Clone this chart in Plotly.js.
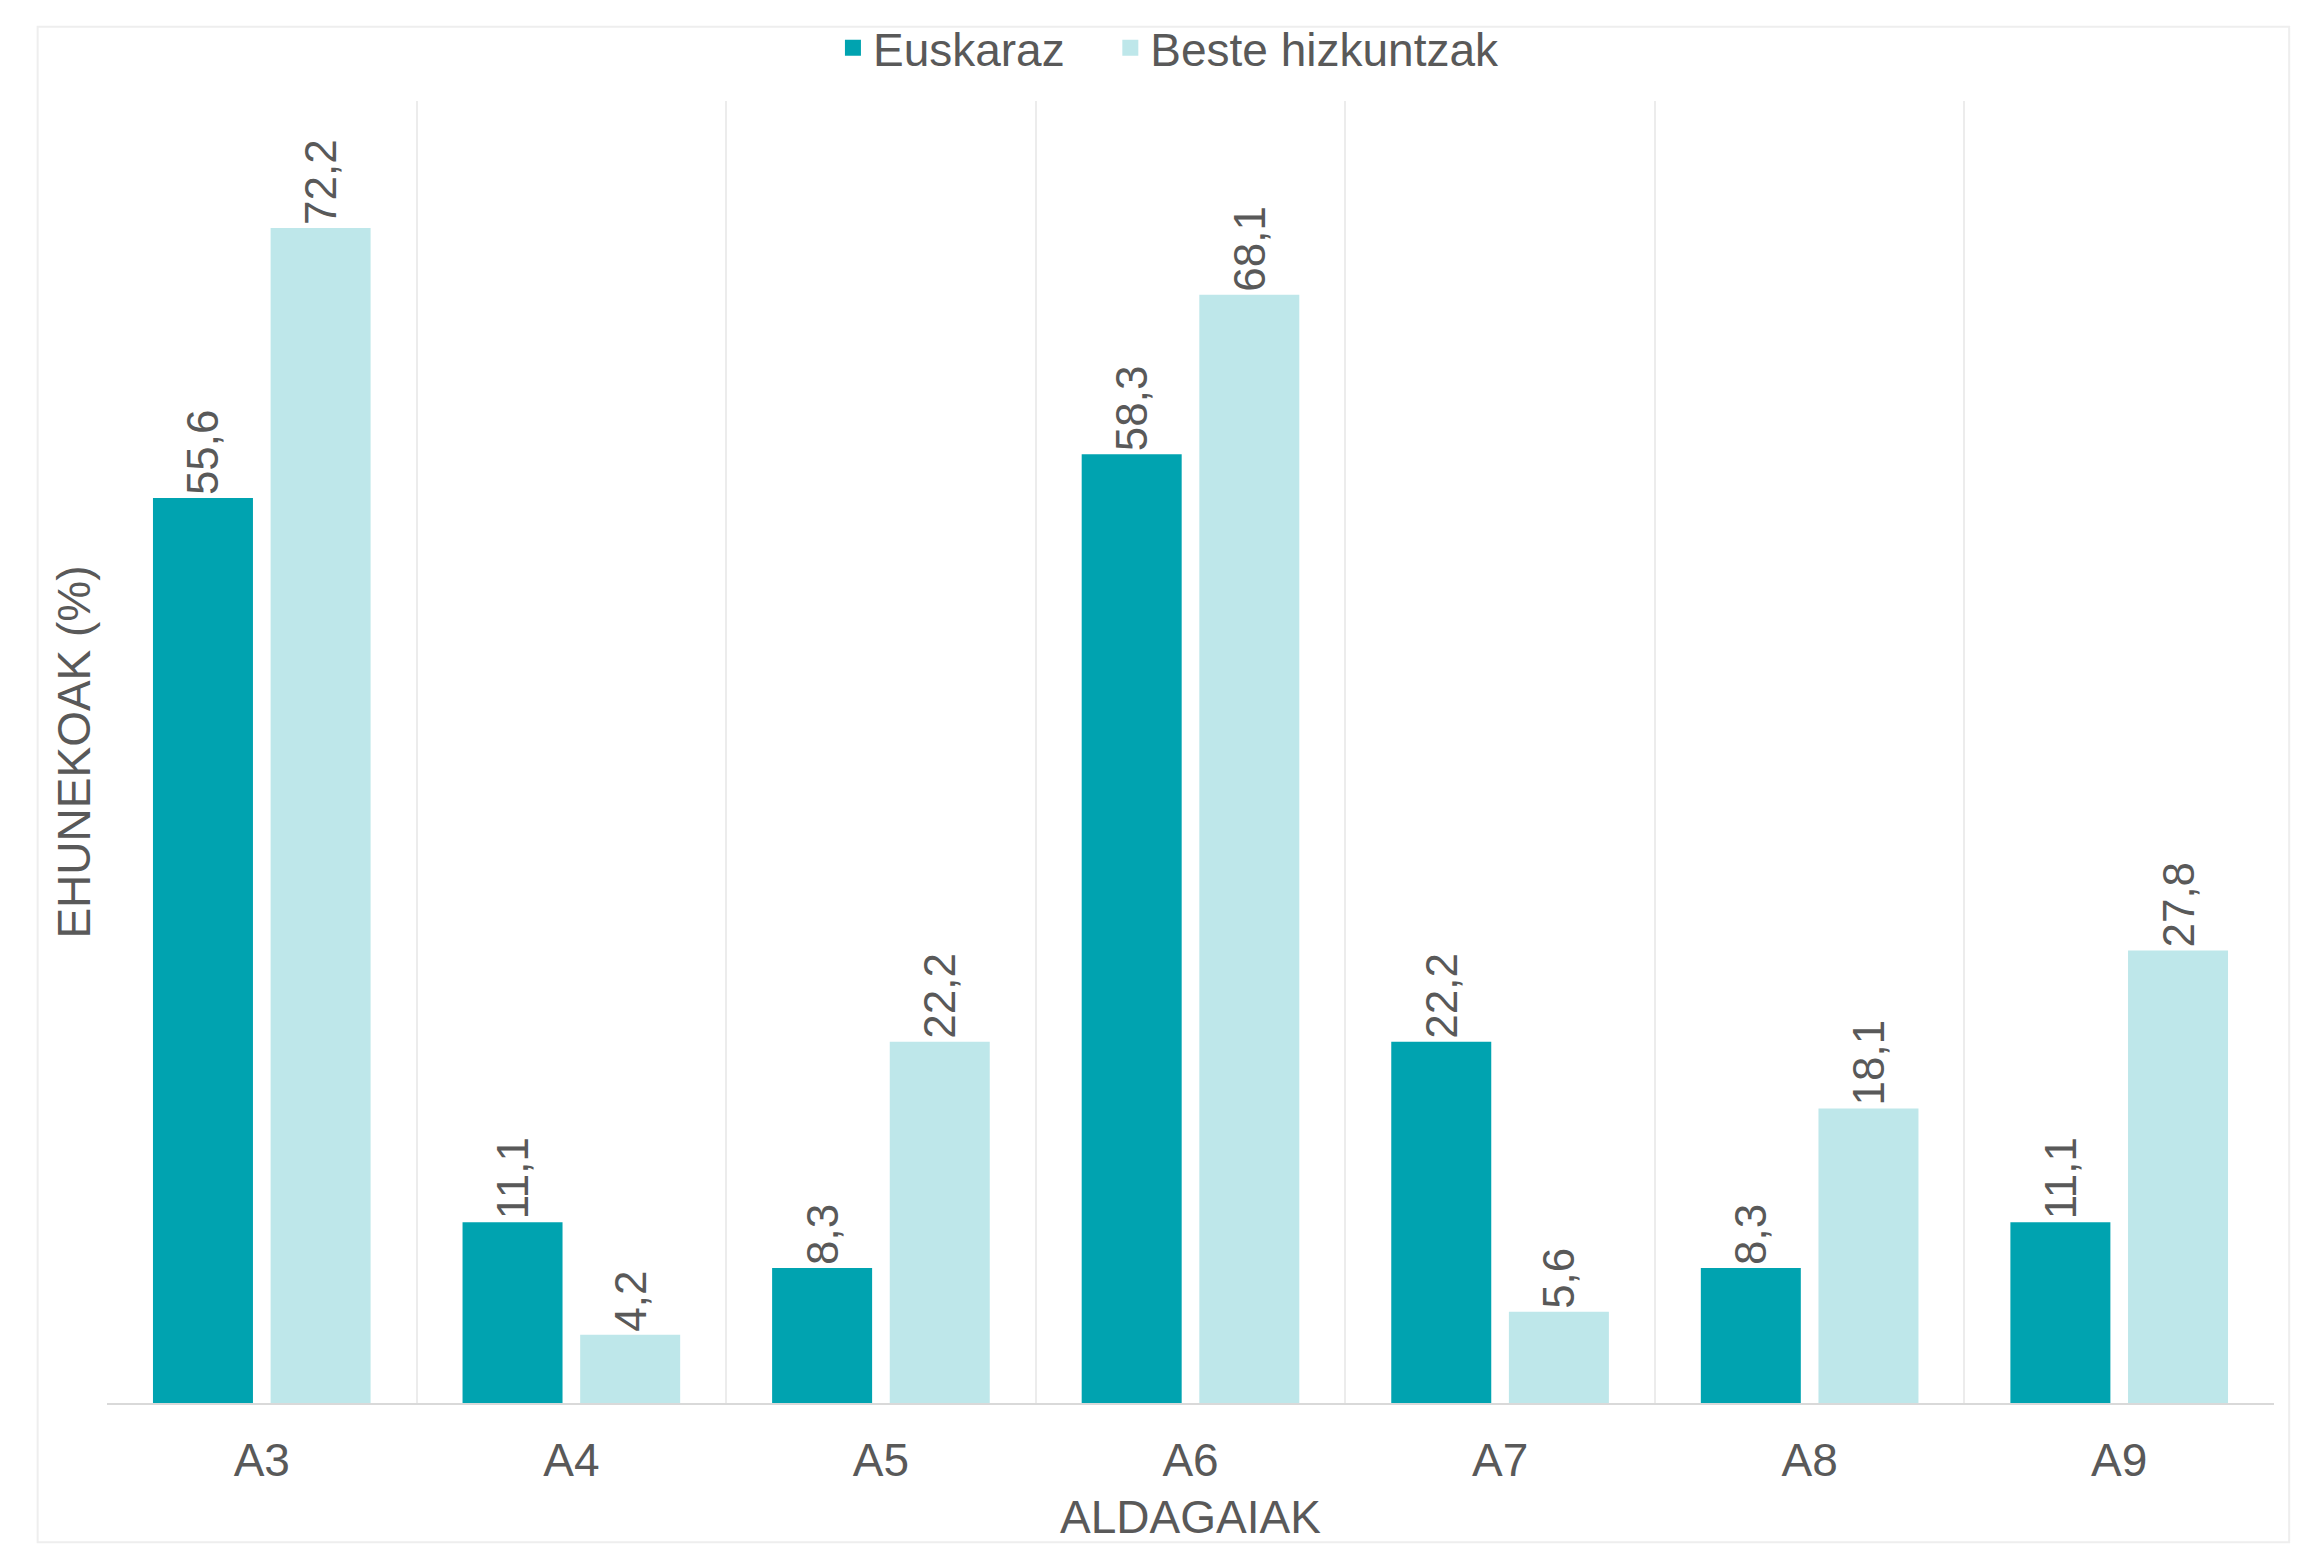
<!DOCTYPE html>
<html>
<head>
<meta charset="utf-8">
<script src="https://cdn.plot.ly/plotly-3.0.1.min.js"></script>
<style>
  html, body { margin: 0; padding: 0; background: #ffffff; }
  #chart { width: 2308px; height: 1549px; }
</style>
</head>
<body>
<div id="chart"></div>
<script>
const categories = ["A3", "A4", "A5", "A6", "A7", "A8", "A9"];
const euskaraz = [55.6, 11.1, 8.3, 58.3, 22.2, 8.3, 11.1];
const besteHizkuntzak = [72.2, 4.2, 22.2, 68.1, 5.6, 18.1, 27.8];
const seriesNames = ["Euskaraz", "Beste hizkuntzak"];
const seriesColors = ["#00A3B0", "#BEE7EA"];

const textColor = "#595959";
const fontFamily = "Liberation Sans, Arial, sans-serif";

const common = {
  type: "bar",
  x: categories,
  texttemplate: "%{y:.1f}",
  textposition: "outside",
  textangle: -90,
  cliponaxis: false,
  showlegend: false,
  textfont: { family: fontFamily, size: 44, color: textColor },
  hoverinfo: "skip"
};

const data = [
  Object.assign({}, common, { name: seriesNames[0], y: euskaraz, marker: { color: seriesColors[0] } }),
  Object.assign({}, common, { name: seriesNames[1], y: besteHizkuntzak, marker: { color: seriesColors[1] } }),
  // legend-only entries with larger square swatches
  { type: "scatter", mode: "markers", x: [null], y: [null], name: seriesNames[0], legend: "legend",
    marker: { symbol: "square", size: 24, color: seriesColors[0] }, hoverinfo: "skip" },
  { type: "scatter", mode: "markers", x: [null], y: [null], name: seriesNames[1], legend: "legend2",
    marker: { symbol: "square", size: 24, color: seriesColors[1] }, hoverinfo: "skip" }
];

const legendCommon = {
  orientation: "h",
  xanchor: "left",
  y: 1.012, yanchor: "bottom",
  font: { family: fontFamily, size: 46, color: textColor },
  itemwidth: 30,
  bgcolor: "rgba(0,0,0,0)"
};

const layout = {
  width: 2308,
  height: 1549,
  margin: { l: 107, r: 34, t: 100, b: 146 },
  paper_bgcolor: "#ffffff",
  plot_bgcolor: "#ffffff",
  separators: ", ",
  font: { family: fontFamily, color: textColor, size: 46 },
  barmode: "group",
  bargap: 0.24,
  bargroupgap: 0.15,
  showlegend: true,
  legend: Object.assign({}, legendCommon, { x: 0.335 }),
  legend2: Object.assign({}, legendCommon, { x: 0.463 }),
  xaxis: {
    type: "category",
    tickson: "boundaries",
    showgrid: true,
    gridcolor: "#ececec",
    gridwidth: 2,
    showline: true,
    linecolor: "#d9d9d9",
    linewidth: 2,
    ticks: "",
    ticklabelstandoff: 16,
    tickfont: { family: fontFamily, size: 46, color: textColor },
    title: { text: "ALDAGAIAK", font: { family: fontFamily, size: 46, color: textColor }, standoff: 16 }
  },
  yaxis: {
    range: [0, 80],
    showgrid: false,
    zeroline: false,
    showticklabels: false,
    ticks: "",
    title: { text: "EHUNEKOAK (%)", font: { family: fontFamily, size: 46, color: textColor }, standoff: 0 }
  },
  shapes: [
    { type: "rect", xref: "paper", yref: "paper", x0: -0.032, x1: 1.007, y0: -0.107, y1: 1.057,
      line: { color: "#eeeeee", width: 2 }, fillcolor: "rgba(0,0,0,0)", layer: "below" }
  ]
};

Plotly.newPlot("chart", data, layout, { displayModeBar: false, staticPlot: true });
</script>
</body>
</html>
